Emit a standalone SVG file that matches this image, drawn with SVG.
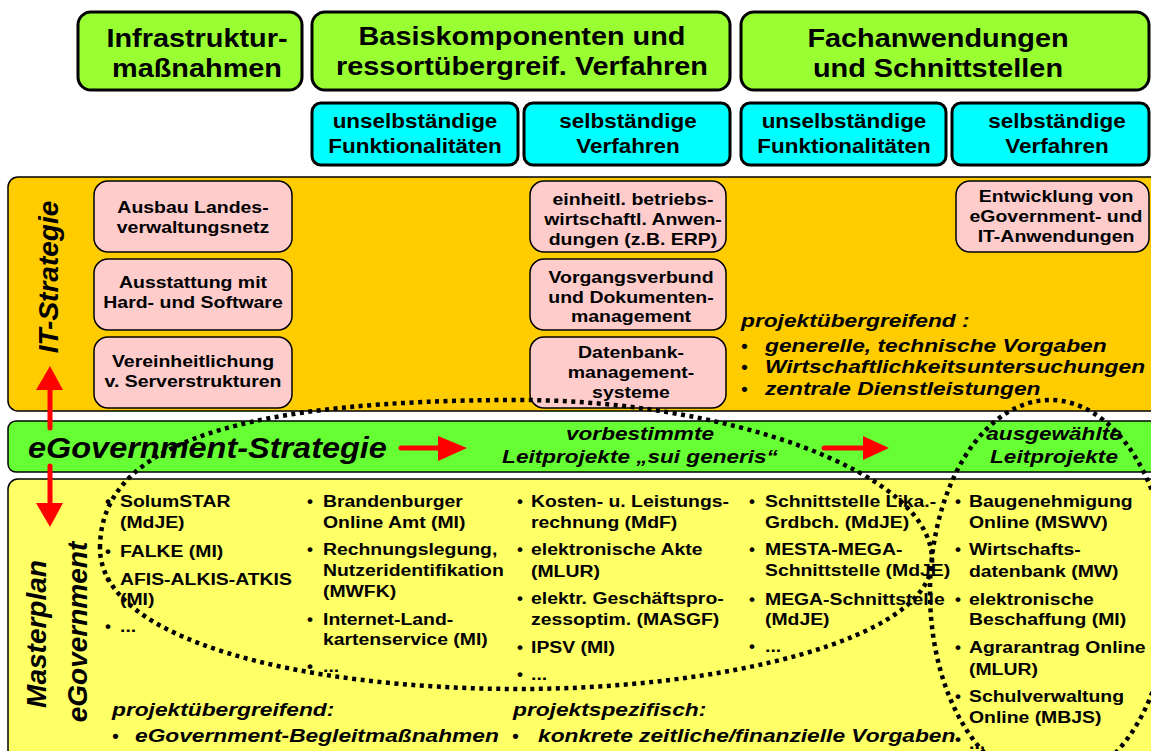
<svg xmlns="http://www.w3.org/2000/svg" width="1151" height="751" viewBox="0 0 1151 751">
<style>
.t{font-family:"Liberation Sans",Arial,sans-serif;font-weight:bold;fill:#000}
.hdr{font-size:26px;text-anchor:middle}
.sub{font-size:21px;text-anchor:middle}
.pk{font-size:16.5px;text-anchor:middle}
.bl{font-size:17px}
.ital{font-size:18.5px;font-style:italic}
.mid{text-anchor:middle}
.vert{font-size:28px;font-style:italic;text-anchor:middle}
.gbox{fill:#99FF33;stroke:#000;stroke-width:3}
.cbox{fill:#00FFFF;stroke:#000;stroke-width:3}
.pbox{fill:#FFCCCC;stroke:#000;stroke-width:1.5}
.band{stroke:#000;stroke-width:1.5}
.arr{stroke:#FF0000;stroke-width:5;stroke-linecap:round;fill:none}
.head{fill:#FF0000}
.dot{fill:none;stroke:#000;stroke-width:4.5;stroke-dasharray:4 4.5}
</style>
<rect width="1151" height="751" fill="#fff"/>

<g id="band-it"><rect class="band" x="8" y="177" width="1160" height="234" rx="10" fill="#FFCC00"/>
<text class="t vert" transform="translate(58,277) rotate(-90)">IT-Strategie</text></g>
<g id="band-egov"><rect class="band" x="8" y="421" width="1160" height="51" rx="8" fill="#66FF33"/>
<text class="t" style="font-size:29px;font-style:italic" transform="translate(28,458) scale(1.12,1)">eGovernment-Strategie</text>
<g transform="translate(640,0) scale(1.22,1)"><text class="t ital mid" x="0" y="440">vorbestimmte</text><text class="t ital mid" x="0" y="463">Leitprojekte „sui generis“</text></g>
<g transform="translate(1054,0) scale(1.22,1)"><text class="t ital mid" x="0" y="440">ausgewählte</text><text class="t ital mid" x="0" y="463">Leitprojekte</text></g>
</g>
<g id="band-master"><rect class="band" x="8" y="479" width="1160" height="300" rx="10" fill="#FFFF66"/>
<text class="t vert" transform="translate(46,634) rotate(-90)">Masterplan</text>
<text class="t vert" transform="translate(87,632) rotate(-90)">eGovernment</text></g>

<g id="hdr-infra"><rect class="gbox" x="78" y="12" width="224" height="78" rx="13"/>
<g transform="translate(197,0) scale(1.11,1)"><text class="t hdr" x="0" y="47">Infrastruktur-</text><text class="t hdr" x="0" y="77">maßnahmen</text></g></g>
<g id="hdr-basis"><rect class="gbox" x="312" y="12" width="418" height="78" rx="13"/>
<g transform="translate(522,0) scale(1.11,1)"><text class="t hdr" x="0" y="45">Basiskomponenten und</text><text class="t hdr" x="0" y="75">ressortübergreif. Verfahren</text></g></g>
<g id="hdr-fach"><rect class="gbox" x="741" y="12" width="408" height="78" rx="13"/>
<g transform="translate(938,0) scale(1.11,1)"><text class="t hdr" x="0" y="47">Fachanwendungen</text><text class="t hdr" x="0" y="77">und Schnittstellen</text></g></g>

<g id="sub-1"><rect class="cbox" x="312" y="103" width="206" height="62" rx="9"/>
<g transform="translate(415,0) scale(1.07,1)"><text class="t sub" x="0" y="128">unselbständige</text><text class="t sub" x="0" y="153">Funktionalitäten</text></g></g>
<g id="sub-2"><rect class="cbox" x="524" y="103" width="206" height="62" rx="9"/>
<g transform="translate(628,0) scale(1.07,1)"><text class="t sub" x="0" y="128">selbständige</text><text class="t sub" x="0" y="153">Verfahren</text></g></g>
<g id="sub-3"><rect class="cbox" x="741" y="103" width="205" height="62" rx="9"/>
<g transform="translate(844,0) scale(1.07,1)"><text class="t sub" x="0" y="128">unselbständige</text><text class="t sub" x="0" y="153">Funktionalitäten</text></g></g>
<g id="sub-4"><rect class="cbox" x="952" y="103" width="197" height="62" rx="9"/>
<g transform="translate(1057,0) scale(1.07,1)"><text class="t sub" x="0" y="128">selbständige</text><text class="t sub" x="0" y="153">Verfahren</text></g></g>

<g id="p-netz"><rect class="pbox" x="94" y="181" width="198" height="71" rx="14"/>
<g transform="translate(193,0) scale(1.18,1)"><text class="t pk" x="0" y="213">Ausbau Landes-</text><text class="t pk" x="0" y="233">verwaltungsnetz</text></g></g>
<g id="p-hw"><rect class="pbox" x="94" y="259" width="198" height="71" rx="14"/>
<g transform="translate(193,0) scale(1.18,1)"><text class="t pk" x="0" y="288">Ausstattung mit</text><text class="t pk" x="0" y="308">Hard- und Software</text></g></g>
<g id="p-server"><rect class="pbox" x="94" y="337" width="198" height="71" rx="14"/>
<g transform="translate(193,0) scale(1.18,1)"><text class="t pk" x="0" y="367">Vereinheitlichung</text><text class="t pk" x="0" y="387">v. Serverstrukturen</text></g></g>
<g id="p-erp"><rect class="pbox" x="530" y="181" width="196" height="71" rx="14"/>
<g transform="translate(633,0) scale(1.18,1)"><text class="t pk" x="0" y="205">einheitl. betriebs-</text><text class="t pk" x="0" y="225">wirtschaftl. Anwen-</text><text class="t pk" x="0" y="245">dungen (z.B. ERP)</text></g></g>
<g id="p-dms"><rect class="pbox" x="530" y="259" width="196" height="71" rx="14"/>
<g transform="translate(631,0) scale(1.18,1)"><text class="t pk" x="0" y="283">Vorgangsverbund</text><text class="t pk" x="0" y="303">und Dokumenten-</text><text class="t pk" x="0" y="322">management</text></g></g>
<g id="p-db"><rect class="pbox" x="530" y="337" width="196" height="71" rx="14"/>
<g transform="translate(631,0) scale(1.18,1)"><text class="t pk" x="0" y="358">Datenbank-</text><text class="t pk" x="0" y="378">management-</text><text class="t pk" x="0" y="398">systeme</text></g></g>
<g id="p-entw"><rect class="pbox" x="956" y="181" width="193" height="71" rx="14"/>
<g transform="translate(1056,0) scale(1.18,1)"><text class="t pk" x="0" y="202">Entwicklung von</text><text class="t pk" x="0" y="222">eGovernment- und</text><text class="t pk" x="0" y="242">IT-Anwendungen</text></g></g>

<g id="it-notes">
<text class="t ital" transform="translate(741,327) scale(1.23,1)">projektübergreifend :</text>
<text class="t ital" x="741" y="352">•</text><text class="t ital" x="741" y="373">•</text><text class="t ital" x="741" y="395">•</text>
<g transform="translate(765,0) scale(1.23,1)"><text class="t ital" x="0" y="352">generelle, technische Vorgaben</text><text class="t ital" x="0" y="373">Wirtschaftlichkeitsuntersuchungen</text><text class="t ital" x="0" y="395">zentrale Dienstleistungen</text></g>
</g>

<g id="col-1">
<text class="t bl" x="105" y="507">•</text><text class="t bl" x="105" y="557">•</text><text class="t bl" x="105" y="585">•</text><text class="t bl" x="105" y="632">•</text>
<g transform="translate(120,0) scale(1.14,1)"><text class="t bl" x="0" y="507">SolumSTAR</text><text class="t bl" x="0" y="528">(MdJE)</text><text class="t bl" x="0" y="557">FALKE (MI)</text><text class="t bl" x="0" y="585">AFIS-ALKIS-ATKIS</text><text class="t bl" x="0" y="605">(MI)</text><text class="t bl" x="0" y="632">...</text></g>
</g>
<g id="col-2">
<text class="t bl" x="307" y="507">•</text><text class="t bl" x="307" y="555">•</text><text class="t bl" x="307" y="625">•</text><text class="t bl" x="307" y="672">•</text>
<g transform="translate(323,0) scale(1.14,1)"><text class="t bl" x="0" y="507">Brandenburger</text><text class="t bl" x="0" y="528">Online Amt (MI)</text><text class="t bl" x="0" y="555">Rechnungslegung,</text><text class="t bl" x="0" y="576">Nutzeridentifikation</text><text class="t bl" x="0" y="597">(MWFK)</text><text class="t bl" x="0" y="625">Internet-Land-</text><text class="t bl" x="0" y="645">kartenservice (MI)</text><text class="t bl" x="0" y="672">...</text></g>
</g>
<g id="col-3">
<text class="t bl" x="517" y="507">•</text><text class="t bl" x="517" y="555">•</text><text class="t bl" x="517" y="604">•</text><text class="t bl" x="517" y="653">•</text><text class="t bl" x="517" y="680">•</text>
<g transform="translate(531,0) scale(1.14,1)"><text class="t bl" x="0" y="507">Kosten- u. Leistungs-</text><text class="t bl" x="0" y="528">rechnung (MdF)</text><text class="t bl" x="0" y="555">elektronische Akte</text><text class="t bl" x="0" y="577">(MLUR)</text><text class="t bl" x="0" y="604">elektr. Geschäftspro-</text><text class="t bl" x="0" y="625">zessoptim. (MASGF)</text><text class="t bl" x="0" y="653">IPSV (MI)</text><text class="t bl" x="0" y="680">...</text></g>
</g>
<g id="col-4">
<text class="t bl" x="749" y="507">•</text><text class="t bl" x="749" y="555">•</text><text class="t bl" x="749" y="605">•</text><text class="t bl" x="749" y="652">•</text>
<g transform="translate(765,0) scale(1.14,1)"><text class="t bl" x="0" y="507">Schnittstelle Lika.-</text><text class="t bl" x="0" y="528">Grdbch. (MdJE)</text><text class="t bl" x="0" y="555">MESTA-MEGA-</text><text class="t bl" x="0" y="576">Schnittstelle (MdJE)</text><text class="t bl" x="0" y="605">MEGA-Schnittstelle</text><text class="t bl" x="0" y="625">(MdJE)</text><text class="t bl" x="0" y="652">...</text></g>
</g>
<g id="col-5">
<text class="t bl" x="955" y="507">•</text><text class="t bl" x="955" y="555">•</text><text class="t bl" x="955" y="605">•</text><text class="t bl" x="955" y="653">•</text><text class="t bl" x="955" y="702">•</text><text class="t bl" x="955" y="745">•</text>
<g transform="translate(969,0) scale(1.14,1)"><text class="t bl" x="0" y="507">Baugenehmigung</text><text class="t bl" x="0" y="528">Online (MSWV)</text><text class="t bl" x="0" y="555">Wirtschafts-</text><text class="t bl" x="0" y="577">datenbank (MW)</text><text class="t bl" x="0" y="605">elektronische</text><text class="t bl" x="0" y="625">Beschaffung (MI)</text><text class="t bl" x="0" y="653">Agrarantrag Online</text><text class="t bl" x="0" y="675">(MLUR)</text><text class="t bl" x="0" y="702">Schulverwaltung</text><text class="t bl" x="0" y="723">Online (MBJS)</text><text class="t bl" x="0" y="749">...</text></g>
</g>

<g id="master-notes">
<text class="t ital" transform="translate(112,716) scale(1.23,1)">projektübergreifend:</text>
<text class="t ital" x="112" y="742">•</text>
<text class="t ital" transform="translate(135,742) scale(1.23,1)">eGovernment-Begleitmaßnahmen</text>
<text class="t ital" transform="translate(513,716) scale(1.23,1)">projektspezifisch:</text>
<text class="t ital" x="512" y="742">•</text>
<text class="t ital" transform="translate(538,742) scale(1.23,1)">konkrete zeitliche/finanzielle Vorgaben</text>
</g>

<g id="connectors">
<line class="arr" x1="50" y1="428" x2="50" y2="389"/>
<polygon class="head" points="36,390 50,366 63,390"/>
<line class="arr" x1="50" y1="466" x2="50" y2="504"/>
<polygon class="head" points="36,503 63,503 50,527"/>
<line class="arr" x1="401" y1="448" x2="439" y2="448"/>
<polygon class="head" points="438,436 467,448 438,461"/>
<line class="arr" x1="824" y1="448" x2="864" y2="448"/>
<polygon class="head" points="863,436 889,448 863,460"/>
</g>

<g id="groupings">
<path class="dot" d="M100,548 C100,440 250,400 520,400 C720,400 932,470 932,560 C932,640 720,689 520,689 C300,689 100,640 100,548 Z"/>
<ellipse class="dot" cx="1050" cy="592" rx="120" ry="192"/>
</g>
</svg>
